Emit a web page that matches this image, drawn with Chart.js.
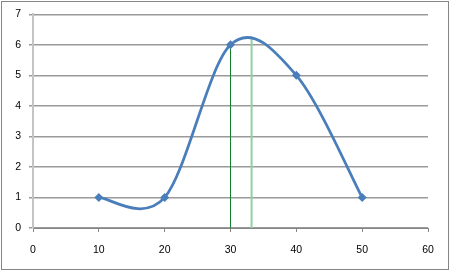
<!DOCTYPE html>
<html>
<head>
<meta charset="utf-8">
<script src="https://cdn.jsdelivr.net/npm/chart.js@4/dist/chart.umd.min.js"></script>
<style>
html,body{margin:0;padding:0;background:#fff;}
#wrap{width:450px;height:271px;}
</style>
</head>
<body>
<div id="wrap"><canvas id="c" width="450" height="271"></canvas></div>
<script>
// Data
const xValues = [10, 20, 30, 40, 50];
const yValues = [1, 1, 6, 5, 1];
const markerLineX = [30, 30];
const markerLineY = [0, 6];
const peakLineX = [33.2, 33.2];
const peakLineY = [0, 6.25];
const xTickValues = [0, 10, 20, 30, 40, 50, 60];
const yTickValues = [0, 1, 2, 3, 4, 5, 6, 7];

const toPts = (xs, ys) => xs.map((x, i) => ({x: x, y: ys[i]}));

// Excel-style smoothing: uniform Catmull-Rom control points in pixel space
const smoothPlugin = {
  id: 'excelSmooth',
  beforeDatasetsDraw(chart) {
    const meta = chart.getDatasetMeta(0);
    const line = meta.dataset;
    line.updateControlPoints(chart.chartArea);
    const pts = meta.data;
    const n = pts.length;
    const k = 1 / 6;
    for (let i = 0; i < n; i++) {
      const p = pts[i];
      const prev = pts[Math.max(i - 1, 0)];
      const next = pts[Math.min(i + 1, n - 1)];
      const dx = next.x - prev.x, dy = next.y - prev.y;
      p.cp1x = p.x - dx * k; p.cp1y = p.y - dy * k;
      p.cp2x = p.x + dx * k; p.cp2y = p.y + dy * k;
    }
  }
};

const borderPlugin = {
  id: 'outerBorder',
  beforeDraw(chart) {
    const ctx = chart.ctx;
    ctx.save();
    ctx.fillStyle = '#ffffff';
    ctx.fillRect(0, 0, chart.width, chart.height);
    ctx.restore();
  },
  afterDraw(chart) {
    const ctx = chart.ctx;
    ctx.save();
    ctx.strokeStyle = '#868686';
    ctx.lineWidth = 1;
    ctx.strokeRect(1.5, 1.5, chart.width - 3, chart.height - 3);
    ctx.restore();
  }
};

const font = {family: '"Liberation Sans", Arial, sans-serif', size: 10.5};

new Chart(document.getElementById('c'), {
  type: 'scatter',
  data: {
    datasets: [
      {
        data: toPts(xValues, yValues),
        showLine: true,
        borderColor: '#4a7ebb',
        backgroundColor: '#4a7ebb',
        borderWidth: 2.75,
        tension: 0.4,
        capBezierPoints: false,
        pointStyle: 'rectRot',
        pointRadius: 4.5,
        pointBorderWidth: 0
      },
      {
        data: toPts(markerLineX, markerLineY),
        showLine: true,
        borderColor: '#137f2c',
        borderWidth: 1,
        pointRadius: 0
      },
      {
        data: toPts(peakLineX, peakLineY),
        showLine: true,
        borderColor: '#8ed39f',
        borderWidth: 2,
        pointRadius: 0
      }
    ]
  },
  options: {
    responsive: false,
    animation: false,
    events: [],
    layout: {padding: {left: 0, right: 22, top: 14, bottom: 0}},
    plugins: {legend: {display: false}, tooltip: {enabled: false}},
    scales: {
      x: {
        type: 'linear',
        min: 0, max: 60,
        afterBuildTicks: (s) => { s.ticks = xTickValues.map(v => ({value: v})); },
        afterFit: (s) => { s.height = 271 - 14 - 214; },
        ticks: {color: '#000', font: font, padding: 12, maxRotation: 0},
        grid: {drawOnChartArea: false, drawTicks: true, tickLength: 4, color: '#868686', lineWidth: 1},
        border: {color: '#868686', width: 1}
      },
      y: {
        type: 'linear',
        min: 0, max: 7,
        afterBuildTicks: (s) => { s.ticks = yTickValues.map(v => ({value: v})); },
        afterFit: (s) => { s.width = 33; },
        ticks: {color: '#000', font: font, padding: 8},
        grid: {color: '#9a9a9a', lineWidth: 1.5, tickLength: 4},
        border: {color: '#c4c4c4', width: 2}
      }
    }
  },
  plugins: [smoothPlugin, borderPlugin]
});
</script>
</body>
</html>
